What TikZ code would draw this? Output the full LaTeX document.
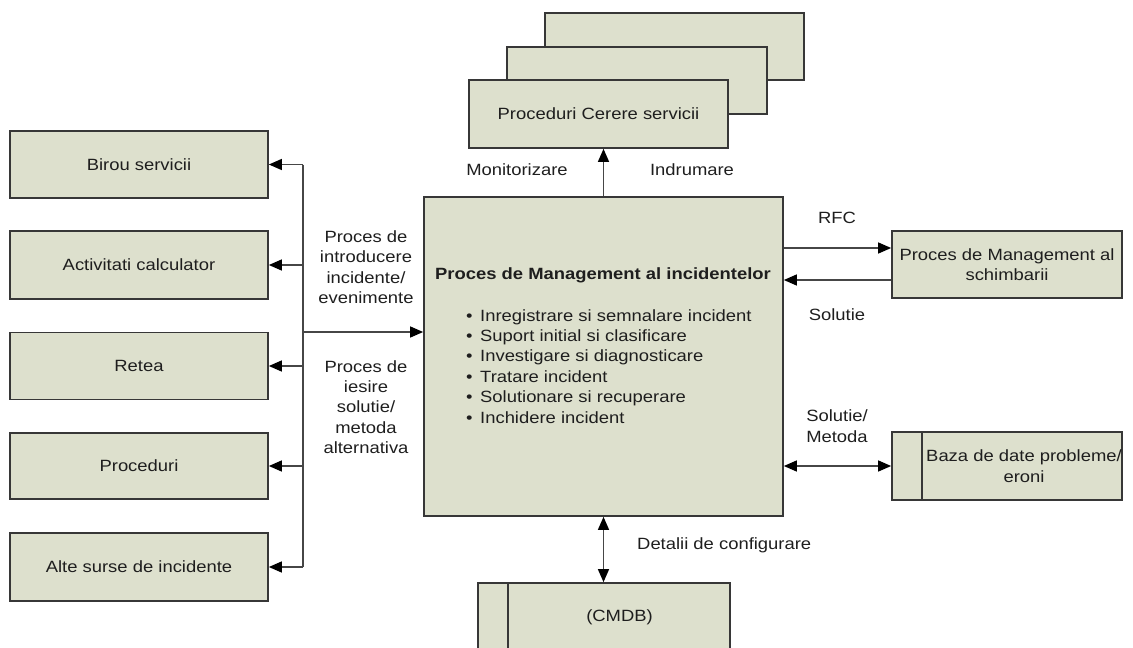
\documentclass[tikz,border=0pt]{standalone}
\usepackage{fontspec}
\setmainfont{Liberation Sans}[FakeStretch=1.13]
\usetikzlibrary{arrows.meta}
\definecolor{boxfill}{RGB}{221,224,205}
\definecolor{boxline}{RGB}{55,55,55}
\definecolor{linecol}{RGB}{70,70,70}
\definecolor{txt}{RGB}{30,30,30}
\tikzset{
  box/.style={draw=boxline, fill=boxfill, line width=1.7pt, inner sep=0pt, align=center, text=txt},
  lbl/.style={inner sep=0pt, align=center, text=txt},
  conn/.style={draw=linecol, line width=1.4pt},
  tip/.tip={Triangle[length=13pt,width=11pt,fill=black,color=black]}
}
\begin{document}
\begin{tikzpicture}[x=1pt,y=-1pt,font=\fontsize{16.3}{20.4}\selectfont]
\useasboundingbox (0,0) rectangle (1133,648);
\clip (0,0) rectangle (1133,648);

% left column of sources
\node[box, minimum width=258, minimum height=67] (birou) at (139,164.5) {Birou servicii};
\node[box, minimum width=258, minimum height=68] (activ) at (139,265) {Activitati calculator};
\node[box, minimum width=258, minimum height=67] (retea) at (139,366) {Retea};
\node[box, minimum width=258, minimum height=66] (proc) at (139,466) {Proceduri};
\node[box, minimum width=258, minimum height=68] (alte) at (139,567) {Alte surse de incidente};

% stack of service request procedures
\node[box, minimum width=259, minimum height=67] (back) at (674.5,46.5) {};
\node[box, minimum width=260, minimum height=67] (mid) at (637,80.5) {};
\node[box, minimum width=259, minimum height=68] (front) at (598.5,114) {Proceduri Cerere servicii};

% central process
\node[box, minimum width=359, minimum height=319] (mgmt) at (603.5,356.5) {};
\node[lbl, font=\fontsize{16.3}{20.4}\selectfont\bfseries] (title) at (603,275) {Proces de Management al incidentelor};
\node[lbl, align=left, anchor=north west] (steps) at (466,309) {%
  \makebox[14pt][l]{\textbullet}Inregistrare si semnalare incident\\
  \makebox[14pt][l]{\textbullet}Suport initial si clasificare\\
  \makebox[14pt][l]{\textbullet}Investigare si diagnosticare\\
  \makebox[14pt][l]{\textbullet}Tratare incident\\
  \makebox[14pt][l]{\textbullet}Solutionare si recuperare\\
  \makebox[14pt][l]{\textbullet}Inchidere incident};

% right side processes
\node[box, minimum width=230, minimum height=67] (chg) at (1007,264.5) {Proces de Management al\\schimbarii};
\node[box, minimum width=230, minimum height=68] (baza) at (1007,466) {};
\draw[draw=boxline, line width=1.7pt] ([xshift=31pt]baza.north west) -- ([xshift=31pt]baza.south west);
\node[lbl] (bazatext) at (1024,466) {Baza de date probleme/\\eroni};

% configuration database
\node[box, minimum width=252, minimum height=68] (cmdb) at (604,617) {};
\draw[draw=boxline, line width=1.7pt] ([xshift=31pt]cmdb.north west) -- ([xshift=31pt]cmdb.south west);
\node[lbl] (cmdbtext) at (619.5,617) {(CMDB)};

% bus of incident sources
\coordinate (bus1) at (303,164.5);
\coordinate (bus2) at (303,265);
\coordinate (bus3) at (303,366);
\coordinate (bus4) at (303,466);
\coordinate (bus5) at (303,567);
\coordinate (busin) at (303,332);
\draw[conn] (bus1) -- (bus5);
\foreach \b/\t in {bus1/birou, bus2/activ, bus3/retea, bus4/proc, bus5/alte}
  \draw[conn, -{tip}] (\b) -- (\t.east);
\draw[conn, -{tip}] (busin) -- (mgmt.west |- busin);

% links from the central process
\draw[conn, -{tip}] (mgmt.north) -- (mgmt.north |- front.south);
\coordinate (rfcpt) at ([yshift=16.5pt]chg.west);
\coordinate (solpt) at ([yshift=-15.5pt]chg.west);
\draw[conn, -{tip}] (mgmt.east |- rfcpt) -- (rfcpt);
\draw[conn, -{tip}] (solpt) -- (mgmt.east |- solpt);
\draw[conn, {tip}-{tip}] (mgmt.east |- baza.west) -- (baza.west);
\draw[conn, {tip}-{tip}] (mgmt.south) -- (mgmt.south |- cmdb.north);

% connector labels
\node[lbl] (lmon) at (517,170) {Monitorizare};
\node[lbl] (lind) at (692,170) {Indrumare};
\node[lbl] (lrfc) at (837,218) {RFC};
\node[lbl] (lsol) at (837,315) {Solutie};
\node[lbl, align=left] (lsolm) at (837,426) {Solutie/\\Metoda};
\node[lbl, anchor=west] (ldet) at (637,545) {Detalii de configurare};
\node[lbl] (lin) at (366,267) {Proces de\\introducere\\incidente/\\evenimente};
\node[lbl] (lout) at (366,407) {Proces de\\iesire\\solutie/\\metoda\\alternativa};
\end{tikzpicture}
\end{document}
